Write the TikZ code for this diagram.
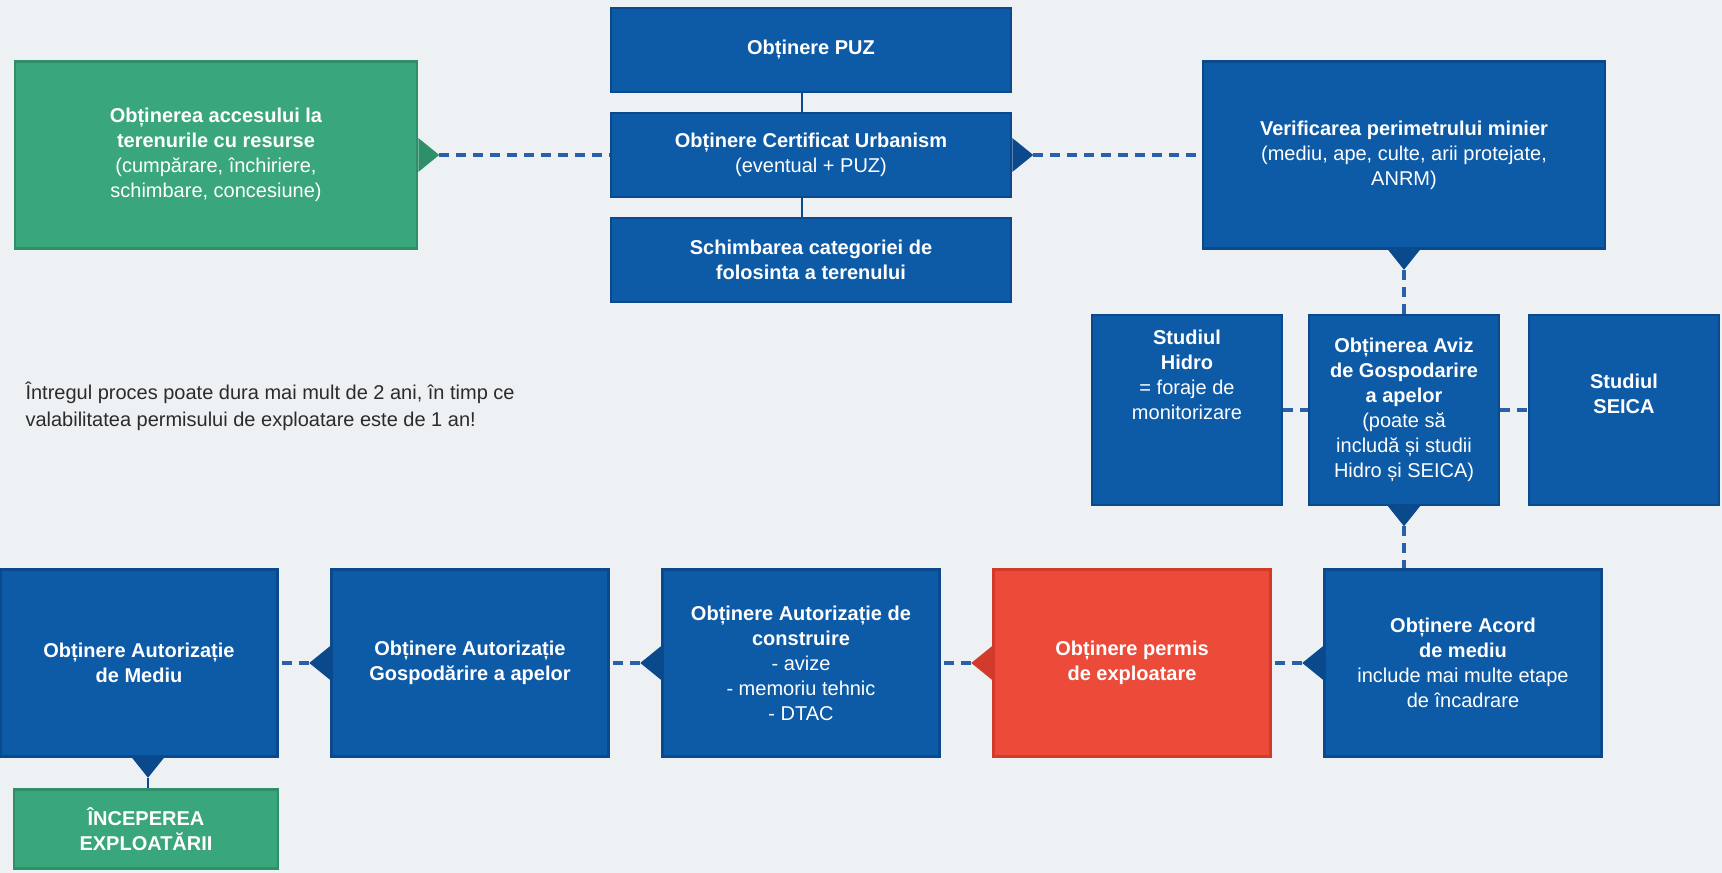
\documentclass[tikz,border=0pt]{standalone}
\usepackage{fontspec}
\setmainfont{Liberation Sans}
\usetikzlibrary{positioning}
\definecolor{paper}{HTML}{EDF1F4}
\definecolor{boxblue}{HTML}{0D5AA7}
\definecolor{boxblueline}{HTML}{0A4A8C}
\definecolor{boxgreen}{HTML}{3AA67B}
\definecolor{boxgreenline}{HTML}{2F8F68}
\definecolor{boxred}{HTML}{EC4B3A}
\definecolor{boxredline}{HTML}{D23A2C}
\definecolor{linkblue}{HTML}{2B5FA8}
\definecolor{notegray}{HTML}{2B2B2B}
\tikzstyle{stage}=[draw, line width=2.5pt, inner sep=4pt, align=center, text=white, font=\fontsize{20}{25}\selectfont]
\tikzstyle{bluestage}=[stage, fill=boxblue, draw=boxblueline]
\tikzstyle{greenstage}=[stage, fill=boxgreen, draw=boxgreenline]
\tikzstyle{redstage}=[stage, fill=boxred, draw=boxredline]
\tikzstyle{bigstage}=[minimum width=402pt, minimum height=187pt]
\tikzstyle{barstage}=[minimum width=400pt, minimum height=84pt]
\tikzstyle{squarestage}=[minimum width=190pt, minimum height=190pt]
\tikzstyle{rowstage}=[minimum width=277pt, minimum height=187pt]
\tikzset{%
    link/.style={draw=linkblue, line width=3.5pt, dash pattern=on 10pt off 7pt},
    tick/.style={draw=boxblueline, line width=2.5pt},
  }
\begin{document}
\begin{tikzpicture}[x=1pt, y=1pt, node distance=331pt]
    \fill[paper] (0,0) rectangle (1722,873);
    \useasboundingbox (0,0) rectangle (1722,873);
    \node (acces) [greenstage, bigstage] at (216,718) {\textbf{Obținerea accesului la}\\\textbf{terenurile cu resurse}\\(cumpărare, închiriere,\\schimbare, concesiune)};
    \node (cu) [bluestage, barstage] at (811,718) {\textbf{Obținere Certificat Urbanism}\\(eventual + PUZ)};
    \node (puz) [bluestage, barstage, above of=cu, node distance=105pt] {\textbf{Obținere PUZ}};
    \node (schimb) [bluestage, barstage, below of=cu, node distance=105pt] {\textbf{Schimbarea categoriei de}\\\textbf{folosinta a terenului}};
    \node (verif) [bluestage, bigstage] at (1404,718) {\textbf{Verificarea perimetrului minier}\\(mediu, ape, culte, arii protejate,\\ANRM)};
    %
    \node (aviz) [bluestage, squarestage] at (1404,463) {\textbf{Obținerea Aviz}\\\textbf{de Gospodarire}\\\textbf{a apelor}\\(poate să\\includă și studii\\Hidro și SEICA)};
    \node (hidro) [bluestage, squarestage, left of=aviz, node distance=217pt, text depth=70pt] {\textbf{Studiul}\\\textbf{Hidro}\\= foraje de\\monitorizare};
    \node (seica) [bluestage, squarestage, right of=aviz, node distance=220pt, text depth=32pt] {\textbf{Studiul}\\\textbf{SEICA}};
    %
    \node (acord) [bluestage, rowstage] at (1463,210) {\textbf{Obținere Acord}\\\textbf{de mediu}\\include mai multe etape\\de încadrare};
    \node (permis) [redstage, rowstage, left of=acord] {\textbf{Obținere permis}\\\textbf{de exploatare}};
    \node (constr) [bluestage, rowstage, left of=permis] {\textbf{Obținere Autorizație de}\\\textbf{construire}\\- avize\\- memoriu tehnic\\- DTAC};
    \node (gosp) [bluestage, rowstage, left of=constr] {\textbf{Obținere Autorizație}\\\textbf{Gospodărire a apelor}};
    \node (mediu) [bluestage, rowstage, left of=gosp] {\textbf{Obținere Autorizație}\\\textbf{de Mediu}};
    \node (incepere) [greenstage, minimum width=264pt, minimum height=79pt] at (146,44) {\textbf{ÎNCEPEREA}\\\textbf{EXPLOATĂRII}};
    %
    \node (nota) [anchor=west, align=left, text=notegray, font=\fontsize{20}{27}\selectfont] at (22,467) {Întregul proces poate dura mai mult de 2 ani, în timp ce\\valabilitatea permisului de exploatare este de 1 an!};

    \fill[boxgreenline] ([yshift=17pt]acces.east) -- ++(21,-17) coordinate (acces-tip) -- ++(-21,-17) -- cycle;
    \fill[boxblueline] ([yshift=17pt]cu.east) -- ++(21,-17) coordinate (cu-tip) -- ++(-21,-17) -- cycle;
    \fill[boxblueline] ([xshift=-16pt]verif.south) -- ++(16,-20) coordinate (verif-tip) -- ++(16,20) -- cycle;
    \fill[boxblueline] ([xshift=-16pt]aviz.south) -- ++(16,-20) coordinate (aviz-tip) -- ++(16,20) -- cycle;
    \fill[boxblueline] ([yshift=17pt]acord.west) -- ++(-21,-17) coordinate (acord-tip) -- ++(21,-17) -- cycle;
    \fill[boxredline] ([yshift=17pt]permis.west) -- ++(-21,-17) coordinate (permis-tip) -- ++(21,-17) -- cycle;
    \fill[boxblueline] ([yshift=17pt]constr.west) -- ++(-21,-17) coordinate (constr-tip) -- ++(21,-17) -- cycle;
    \fill[boxblueline] ([yshift=17pt]gosp.west) -- ++(-21,-17) coordinate (gosp-tip) -- ++(21,-17) -- cycle;
    \fill[boxblueline] ([xshift=-7pt]mediu.south) -- ++(16,-20) coordinate (mediu-tip) -- ++(16,20) -- cycle;

    \draw [link] (acces-tip) -- (cu);
    \draw [tick] ([xshift=-9pt]puz.south) -- ([xshift=-9pt]cu.north);
    \draw [tick] ([xshift=-9pt]cu.south) -- ([xshift=-9pt]schimb.north);
    \draw [link] (cu-tip) -- (verif);
    \draw [link] (verif-tip) -- (aviz);
    \draw [link] (hidro) -- (aviz);
    \draw [link] (aviz) -- (seica);
    \draw [link] (aviz-tip) -- (aviz-tip |- acord.north);
    \draw [link] (acord-tip) -- (permis);
    \draw [link] (permis-tip) -- (constr);
    \draw [link] (constr-tip) -- (gosp);
    \draw [link] (gosp-tip) -- (mediu);
    \draw [tick] (mediu-tip) -- (mediu-tip |- incepere.north);
  \end{tikzpicture}
\end{document}
